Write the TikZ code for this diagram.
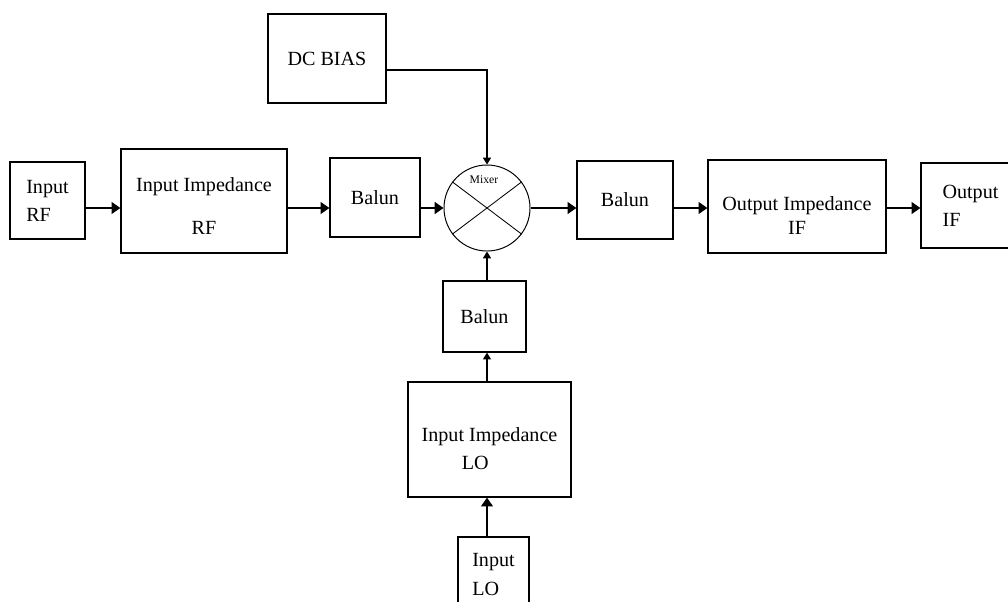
\documentclass[tikz,border=0pt]{standalone}
\usepackage{fontspec}
\setmainfont{Liberation Serif}
\usepackage{tikz}
\usetikzlibrary{arrows.meta, positioning}

\begin{document}
\begin{tikzpicture}[
    x=0.025cm, y=-0.025cm,
    block/.style={draw, line width=0.9pt, inner sep=2pt, align=center, font=\fontsize{14.3}{20}\selectfont},
    mix/.style={draw, circle, line width=0.7pt, inner sep=0pt, minimum size=2.15cm},
    arr/.style={-{Triangle[length=2.2mm, width=3mm]}, line width=0.9pt},
    arrsm/.style={-{Triangle[length=1.7mm, width=2mm]}, line width=0.9pt},
]
\useasboundingbox (0,0) rectangle (1008,601);

% --- RF path (left) ---
\node[block, minimum width=1.875cm, minimum height=1.925cm, align=left] at (47.5, 200.5) (inrf)    {Input\\RF};
\node[block, minimum width=4.15cm,  minimum height=2.6cm]               at (204, 201)    (inimprf) {\rule{0pt}{17pt}Input Impedance\\[10pt]RF};
\node[block, minimum width=2.25cm,  minimum height=1.975cm]             at (375, 197.5)  (balunrf) {Balun};

% --- Mixer and bias ---
\node[mix] at (487, 208) (mixer) {};
\node[font=\fontsize{8.3}{9}\selectfont] at (484, 180) (mixlbl) {Mixer};
\node[block, minimum width=2.95cm, minimum height=2.225cm] at (327, 58.5) (dcbias) {DC BIAS};

% --- IF path (right) ---
\node[block, minimum width=2.4cm,   minimum height=1.95cm]              at (625, 200)    (balunif) {Balun};
\node[block, minimum width=4.45cm,  minimum height=2.325cm]             at (797, 206.5)  (outimp)  {\rule{0pt}{23pt}Output Impedance\\[-3pt]IF};
\node[block, minimum width=2.475cm, minimum height=2.125cm, align=left] at (970.5, 205.5) (outif)  {Output\\IF};

% --- LO path (below) ---
\node[block, minimum width=2.075cm, minimum height=1.775cm]             at (484.5, 316.5) (balunlo) {Balun};
\node[block, minimum width=4.075cm, minimum height=2.875cm, align=left] at (489.5, 439.5) (inimplo) {\rule{0pt}{23pt}Input Impedance\\\hspace*{2em}LO};
\node[block, minimum width=1.775cm, minimum height=1.875cm, align=left] at (493.5, 574.5) (inlo)    {Input\\LO};

% --- mixer cross ---
\draw[line width=0.6pt] (mixer.143) -- (mixer.-37);
\draw[line width=0.6pt] (mixer.37) -- (mixer.-143);

% --- signal flow ---
\draw[arr] (inrf.east |- mixer)    -- (inimprf.west |- mixer);
\draw[arr] (inimprf.east |- mixer) -- (balunrf.west |- mixer);
\draw[arr] (balunrf.east |- mixer) -- (mixer.west);
\draw[arr] (mixer.east)            -- (balunif.west |- mixer);
\draw[arr] (balunif.east |- mixer) -- (outimp.west |- mixer);
\draw[arr] (outimp.east |- mixer)  -- (outif.west |- mixer);

\draw[arrsm] ([yshift=-0.29cm]dcbias.east) -| (mixer.north);
\draw[arrsm] (balunlo.north -| mixer) -- (mixer.south);
\draw[arrsm] (inimplo.north -| mixer) -- (balunlo.south -| mixer);
\draw[arr] (inlo.north -| mixer) -- (inimplo.south -| mixer);

\end{tikzpicture}
\end{document}
